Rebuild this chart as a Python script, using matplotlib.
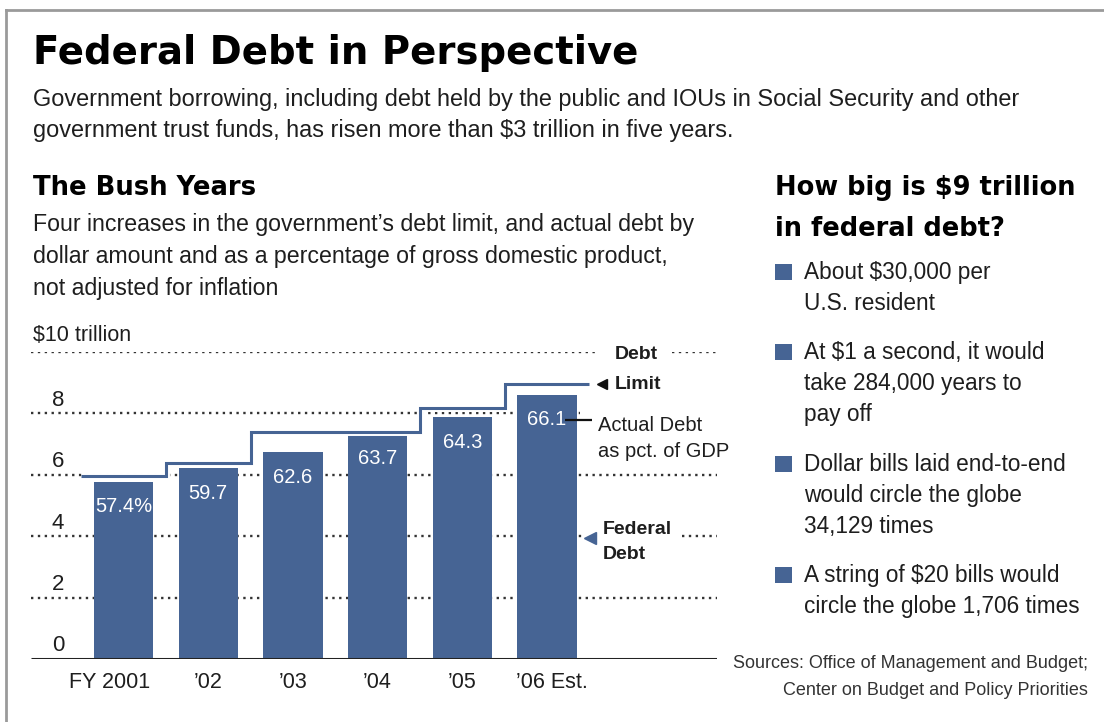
import numpy as np
import matplotlib
matplotlib.use("Agg")
from matplotlib import pyplot as plt
from matplotlib.lines import Line2D
from matplotlib.patches import Rectangle
import matplotlib.patheffects as pe

years = ["FY 2001", "\u201902", "\u201903", "\u201904", "\u201905", "\u201906 Est."]
debt = [5.77, 6.22, 6.74, 7.36, 7.88, 8.60]          # $ trillion
debt_limit = [5.95, 6.40, 7.38, 7.38, 8.18, 8.97]    # $ trillion
pct_gdp = ["57.4%", "59.7", "62.6", "63.7", "64.3", "66.1"]
y_ticks = [0, 2, 4, 6, 8, 10]

bullets = [
    ["About $30,000 per", "U.S. resident"],
    ["At $1 a second, it would", "take 284,000 years to", "pay off"],
    ["Dollar bills laid end-to-end", "would circle the globe", "34,129 times"],
    ["A string of $20 bills would", "circle the globe 1,706 times"],
]

W, H = 1104, 722
BLUE = "#466494"
INK = "#1e1e1e"

NARROW = ["Liberation Sans", "DejaVu Sans"]
BOLD = ["DejaVu Sans"]
PLAIN = ["Liberation Sans", "DejaVu Sans"]

def fx(px): return px / W
def fy(py): return 1 - py / H

fig = plt.figure(figsize=(W / 100, H / 100), dpi=100)

def ftext(px, py, s, size, family, weight="normal", color=INK, ha="left"):
    fig.text(fx(px), fy(py), s, fontsize=size, family=family, fontweight=weight,
             color=color, ha=ha, va="baseline")

# frame
fig.add_artist(Line2D([fx(6), fx(W)], [fy(10), fy(10)], color="#9a9a9a", lw=2))
fig.add_artist(Line2D([fx(6), fx(6)], [fy(10), fy(H)], color="#9a9a9a", lw=2))

# headings
ftext(33, 64, "Federal Debt in Perspective", 27.8, BOLD, "heavy", "black")
ftext(33, 106, "Government borrowing, including debt held by the public and IOUs in Social Security and other", 16.9, NARROW)
ftext(33, 137, "government trust funds, has risen more than $3 trillion in five years.", 16.9, NARROW)
ftext(33, 195, "The Bush Years", 18.6, BOLD, "bold", "black")
desc = ["Four increases in the government\u2019s debt limit, and actual debt by",
        "dollar amount and as a percentage of gross domestic product,",
        "not adjusted for inflation"]
for i, line in enumerate(desc):
    ftext(33, 231 + 32 * i, line, 16.7, NARROW)

# right panel
ftext(775, 195, "How big is $9 trillion", 18.5, BOLD, "bold", "black")
ftext(775, 236, "in federal debt?", 18.5, BOLD, "bold", "black")
tops = [272, 352, 464, 575]
for top, lines in zip(tops, bullets):
    fig.add_artist(Rectangle((fx(775), fy(top + 8)), 17 / W, 16 / H, color=BLUE, lw=0))
    for j, line in enumerate(lines):
        ftext(804, top + 7 + 31 * j, line, 16.3, PLAIN)
ftext(1088, 668, "Sources: Office of Management and Budget;", 13, NARROW, color="#333333", ha="right")
ftext(1088, 695, "Center on Budget and Policy Priorities", 13, NARROW, color="#333333", ha="right")

# chart
x0, step = 123.5, 84.7
ax_l, ax_r, ax_b, ax_t = 31, 717, 659, 352
ax = fig.add_axes([fx(ax_l), fy(ax_b), (ax_r - ax_l) / W, (ax_b - ax_t) / H])
ax.set_xlim((ax_l - x0) / step, (ax_r - x0) / step)
ax.set_ylim(0, 10)
ax.axis("off")

def dx(px): return (px - x0) / step

x = np.arange(len(debt))
ax.bar(x, debt, width=0.70, color=BLUE, zorder=3)
for xi, v, lbl in zip(x, debt, pct_gdp):
    ax.annotate(lbl, (xi, v), xytext=(0, -18), textcoords="offset points",
                ha="center", va="center", color="white", fontsize=14.5, family=NARROW, zorder=5)

ax.stairs(debt_limit, edges=np.arange(-0.5, len(debt_limit)), baseline=None,
          color=BLUE, lw=2.2, zorder=4,
          path_effects=[pe.Stroke(linewidth=5, foreground="white"), pe.Normal()])

# dotted gridlines (gaps where the side labels sit)
grid_kw = dict(color="#333333", lw=1.7, linestyle=(0, (1, 1.9)), zorder=1)
segments = {2: [(31, 717)], 4: [(31, 582), (682, 717)], 6: [(31, 717)],
            8: [(31, 580)], 10: [(31, 595), (672, 717)]}
for v in y_ticks[1:]:
    for a, b in segments[v]:
        ax.plot([dx(a), dx(b)], [v, v], **grid_kw)
ax.plot([dx(31), dx(717)], [0, 0], color="#222222", lw=2.2, zorder=4, solid_capstyle="butt")

for v in y_ticks[:-1]:
    ax.annotate(str(v), (dx(58), v), xytext=(0, 9.5), textcoords="offset points",
                ha="center", va="center", fontsize=16, family=NARROW, color=INK)
ftext(33, 341, "$10 trillion", 15.5, NARROW)

# x labels
label_dx = [-13.5, 0, 0, 0, 0, 5]
for xi, lbl, off in zip(x, years, label_dx):
    ax.annotate(lbl, (xi, 0), xytext=(off / 1.389, -17), textcoords="offset points",
                ha="center", va="center", fontsize=15.5, family=NARROW, color=INK)

# side labels
ftext(615, 359, "Debt", 14, NARROW, "bold")
ftext(615, 389, "Limit", 14, NARROW, "bold")
ax.plot(dx(602), debt_limit[-1], marker="<", ms=7, color="#111111", clip_on=False, zorder=6)
ax.plot([dx(565), dx(592)], [debt[-1] - 0.8, debt[-1] - 0.8], color="#111111", lw=1.6,
        zorder=6, clip_on=False, solid_capstyle="butt")
ftext(598, 431, "Actual Debt", 14.5, NARROW)
ftext(598, 457, "as pct. of GDP", 14.5, NARROW)
ax.plot(dx(590), 3.95, marker="<", ms=8, color=BLUE, clip_on=False, zorder=6)
ftext(603, 534, "Federal", 14, NARROW, "bold")
ftext(603, 559, "Debt", 14, NARROW, "bold")

fig.savefig("out.png", dpi=100)
